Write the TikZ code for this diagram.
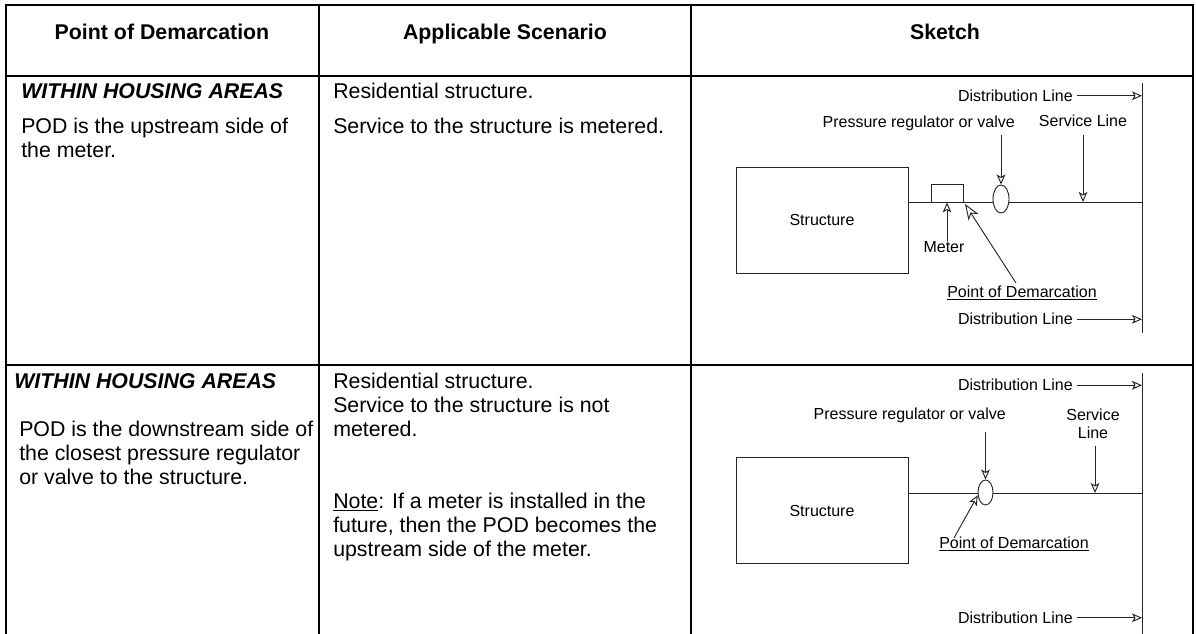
\documentclass[tikz,border=0pt]{standalone}
\usepackage{fontspec}
\setmainfont{Liberation Sans}
\usetikzlibrary{arrows.meta,shapes.geometric,backgrounds}

\begin{document}
\begin{tikzpicture}[x=0.75pt,y=-0.75pt,
  border/.style={line width=1.5pt},
  hdr/.style={font=\fontsize{16}{19}\selectfont\bfseries, inner sep=0pt, anchor=base},
  body/.style={font=\fontsize{16}{19}\selectfont, inner sep=0pt, anchor=base west},
  bodyb/.style={body, font=\fontsize{16}{19}\selectfont\bfseries\itshape},
  sk/.style={font=\fontsize{12}{13.5}\selectfont, inner sep=0pt},
  skline/.style={line width=0.7pt, draw=black!85},
  tip/.style={skline, -{Stealth[open, length=7.5pt, width=6.5pt, inset=1.8pt]}},
  bigtip/.style={skline, -{Stealth[open, length=12pt, width=9pt, inset=3.5pt]}},
  structbox/.style={draw=black!85, line width=0.7pt, fill=white, sk, minimum width=129pt, minimum height=79.5pt},
  meterbox/.style={draw=black!85, line width=0.7pt, inner sep=0pt, minimum width=24pt, minimum height=13.5pt},
  valve/.style={ellipse, draw=black!85, line width=0.7pt, fill=white, inner sep=0pt, minimum width=12pt, minimum height=21pt},
  valvesm/.style={valve, minimum width=11.25pt, minimum height=18.75pt}
]
% ---------- table ----------
\begin{scope}[on background layer]
  \fill[white] (0,0) rectangle (1196,634);
\end{scope}
\useasboundingbox (0,0) rectangle (1196,634);
\draw[border] (6,634) -- (6,5) -- (1193,5) -- (1193,634);
\draw[border] (6,76) -- (1193,76);
\draw[border] (6,365) -- (1193,365);
\draw[border] (319,5) -- (319,634);
\draw[border] (691,5) -- (691,634);

% ---------- header ----------
\node[hdr] (h1) at (162,40) {Point of Demarcation};
\node[hdr] (h2) at (505,40) {Applicable Scenario};
\node[hdr] (h3) at (945,40) {Sketch};

% ---------- row 1 text ----------
\node[bodyb] (r1a) at (21,98.5) {WITHIN HOUSING AREAS};
\node[body] (r1b) at (21,133.5) {POD is the upstream side of};
\node[body] (r1c) at (21,157.5) {the meter.};
\node[body] (r1d) at (333,98.5) {Residential structure.};
\node[body] (r1e) at (333,133.5) {Service to the structure is metered.};

% ---------- row 2 text ----------
\node[bodyb] (r2a) at (14,388.5) {WITHIN HOUSING AREAS};
\node[body] (r2b) at (19,436.5) {POD is the downstream side of};
\node[body] (r2c) at (19,460.5) {the closest pressure regulator};
\node[body] (r2d) at (19,484.5) {or valve to the structure.};
\node[body] (r2e) at (333,388.5) {Residential structure.};
\node[body] (r2f) at (333,412.5) {Service to the structure is not};
\node[body] (r2g) at (333,436.5) {metered.};
\node[body] (r2h) at (333,508.5) {\underline{Note}: If a meter is installed in the};
\node[body] (r2i) at (333,532.5) {future, then the POD becomes the};
\node[body] (r2j) at (333,556.5) {upstream side of the meter.};

% ---------- sketch 1 ----------
\coordinate (m1t) at (1142,83);
\coordinate (m1b) at (1142,333);
\coordinate (s1e) at (1142,202);
\node[structbox] (st1) at (822,220) {Structure};
\node[meterbox] (mt1) at (947,193) {};
\begin{scope}[on background layer]
  \draw[skline] (m1t) -- (m1b);
  \draw[skline] (st1.east |- s1e) -- (s1e);
\end{scope}
\node[valve] (v1) at (1001,199) {};
\node[sk, anchor=base east] (dl1) at (1073,101.5) {Distribution Line};
\node[sk, anchor=base east] (pr1) at (1015,127.5) {Pressure regulator or valve};
\node[sk, anchor=base] (sl1) at (1083,126.5) {Service Line};
\node[sk, anchor=north] (ml1) at (944,241) {Meter};
\node[sk, anchor=base] (pd1) at (1022,297.5) {\underline{Point of Demarcation}};
\node[sk, anchor=base east] (dl2) at (1073,325) {Distribution Line};
\coordinate (va1) at (1001,135);
\coordinate (sa1) at (1083,135);
\coordinate (pa1) at (1016,283);
\draw[tip] ([xshift=3pt]dl1.east) -- (dl1.east -| m1t);
\draw[tip] ([xshift=3pt]dl2.east) -- (dl2.east -| m1t);
\draw[tip] (va1) -- (v1.north);
\draw[tip] (sa1) -- (sa1 |- s1e);
\draw[tip] (mt1.south |- ml1.north) -- (mt1.south);
\draw[bigtip] (pa1) -- ([shift={(1.5,1.5)}]mt1.south east);

% ---------- sketch 2 ----------
\coordinate (m2t) at (1142,373);
\coordinate (m2b) at (1142,634);
\coordinate (s2e) at (1142,493);
\node[structbox] (st2) at (822,510.5) {Structure};
\begin{scope}[on background layer]
  \draw[skline] (m2t) -- (m2b);
  \draw[skline] (st2.east |- s2e) -- (s2e);
\end{scope}
\node[valvesm] (v2) at (985.5,492.5) {};
\node[sk, anchor=base east] (dl3) at (1073,391) {Distribution Line};
\node[sk, anchor=base east] (pr2) at (1006,419.5) {Pressure regulator or valve};
\node[sk, anchor=north, align=center] (sl2) at (1093,409) {Service\\Line};
\node[sk, anchor=base west] (pd2) at (939,548.5) {\underline{Point of Demarcation}};
\node[sk, anchor=base east] (dl4) at (1073,623.5) {Distribution Line};
\coordinate (va2) at (985.5,432);
\coordinate (sa2) at (1095,446);
\coordinate (pa2) at (954,538);
\draw[tip] ([xshift=3pt]dl3.east) -- (dl3.east -| m2t);
\draw[tip] ([xshift=3pt]dl4.east) -- (dl4.east -| m2t);
\draw[tip] (va2) -- (v2.north);
\draw[tip] (sa2) -- (sa2 |- s2e);
\draw[tip] (pa2) -- (v2.200);
\end{tikzpicture}
\end{document}
